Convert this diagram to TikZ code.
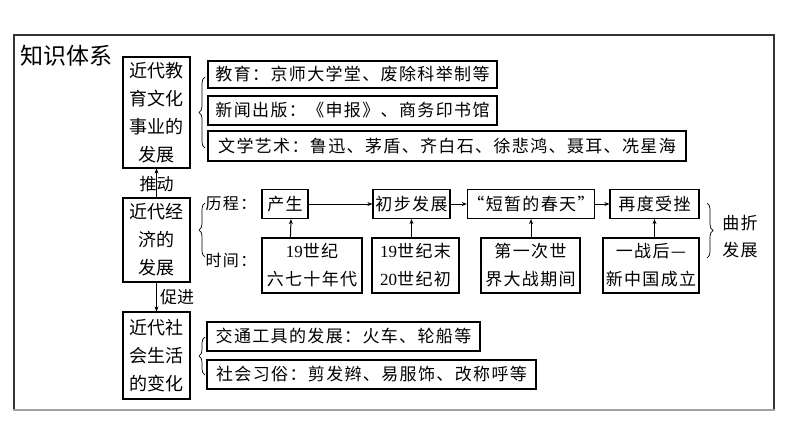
\documentclass[tikz,border=0pt]{standalone}
\usepackage{fontspec}
\newfontfamily\cjk{Noto Sans CJK SC}
\newfontfamily\cjkw[LetterSpace=8]{Noto Sans CJK SC}
\newfontfamily\numfont{Liberation Serif}
\usetikzlibrary{arrows.meta,decorations.pathreplacing}

\begin{document}
\begin{tikzpicture}[x=1pt, y=-1pt,
        box/.style={draw, line width=1.2pt, inner sep=0pt, align=center, font=\cjk\fontsize{18}{28}\selectfont},
        tbox/.style={box, font=\cjkw\fontsize{17}{28}\selectfont},
        lbl/.style={inner sep=0pt, align=center, font=\cjk\fontsize{17}{27}\selectfont},
        arr/.style={line width=1pt, -{Stealth[length=5pt,width=4pt]}},
        brc/.style={decorate, decoration={brace, amplitude=6pt}, line width=0.7pt}]
        \useasboundingbox (0,0) rectangle (794,447);
        \draw [line width=1.3pt, black!80] (14,410) -- (14,35) -- (774,35) -- (774,410);
        \draw [line width=2.5pt, black!37] (13,410) -- (775,410);
        \node (h0) [lbl, anchor=west, font=\cjk\fontsize{23}{23}\selectfont] at (20,56) {知识体系};
        % three main boxes
        \node (m1) [box, minimum width=67pt, minimum height=111pt] at (156.5,112.5) {近代教\\育文化\\事业的\\发展};
        \node (m2) [box, minimum width=67pt, minimum height=84pt] at (156.5,240) {近代经\\济的\\发展};
        \node (m3) [box, minimum width=67pt, minimum height=87pt] at (156.5,355.5) {近代社\\会生活\\的变化};
        \node (l1) [lbl] at (156.5,184) {推动};
        \node (l2) [lbl] at (177,297) {促进};
        % culture
        \node (e1) [tbox, minimum width=289pt, minimum height=27pt] at (352.5,74.5) {教育：京师大学堂、废除科举制等};
        \node (e2) [tbox, minimum width=289pt, minimum height=29pt] at (352.5,110.5) {新闻出版：《申报》、商务印书馆};
        \node (e3) [tbox, minimum width=478pt, minimum height=30pt] at (447,146) {文学艺术：鲁迅、茅盾、齐白石、徐悲鸿、聂耳、冼星海};
        % economy
        \node (k1) [lbl, font=\cjkw\fontsize{16}{16}\selectfont] at (231,204) {历程：};
        \node (k2) [lbl, font=\cjkw\fontsize{16}{16}\selectfont] at (231,260) {时间：};
        \node (p1) [tbox, minimum width=46pt, minimum height=29pt] at (285,204) {产生};
        \node (p2) [tbox, minimum width=77pt, minimum height=29pt] at (411.5,204) {初步发展};
        \node (p3) [tbox, minimum width=124pt, minimum height=29pt] at (531,204) {“短暂的春天”};
        \node (p4) [tbox, minimum width=89pt, minimum height=29pt] at (654.5,204) {再度受挫};
        \node (t1) [tbox, minimum width=100pt, minimum height=55pt] at (312,265.5) {{\numfont 19}世纪\\六七十年代};
        \node (t2) [tbox, minimum width=87pt, minimum height=55pt] at (415.5,265.5) {{\numfont 19}世纪末\\{\numfont 20}世纪初};
        \node (t3) [tbox, minimum width=99pt, minimum height=55pt] at (530.5,265.5) {第一次世\\界大战期间};
        \node (t4) [tbox, minimum width=96pt, minimum height=55pt] at (651,265.5) {一战后—\\新中国成立};
        \node (q0) [lbl, font=\cjkw\fontsize{17}{27}\selectfont] at (740,236.5) {曲折\\发展};
        % society
        \node (s1) [tbox, minimum width=273pt, minimum height=29pt] at (343.5,336.5) {交通工具的发展：火车、轮船等};
        \node (s2) [tbox, minimum width=329pt, minimum height=29pt] at (371.5,374.5) {社会习俗：剪发辫、易服饰、改称呼等};
        \draw (m2) edge [arr] (m1);
        \draw (m2) edge [arr] (m3);
        \draw (p1) edge [arr] (p2);
        \draw (p2) edge [arr] (p3);
        \draw (p3) edge [arr] (p4);
        \draw ([xshift=29pt]t1.north west) edge [arr] ([xshift=6pt]p1.south);
        \draw (p2.south |- t2.north) edge [arr] (p2.south);
        \draw (p3.south |- t3.north) edge [arr] (p3.south);
        \draw (p4.south |- t4.north) edge [arr] (p4.south);
        \draw [brc] (205,148) -- (205,77);
        \draw [brc] (205,257) -- (205,203);
        \draw [brc] (205,375) -- (205,337);
        \draw [brc] (707,203) -- (707,258);
\end{tikzpicture}
\end{document}
